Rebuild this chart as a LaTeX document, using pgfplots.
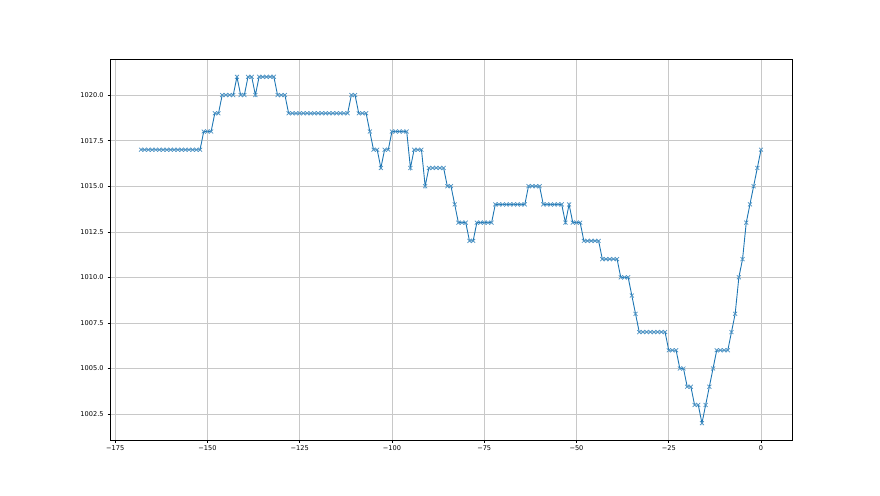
\documentclass[border=0pt]{standalone}
\usepackage{fontspec}
\setmainfont{DejaVu Sans}
\usepackage{pgfplots}
\pgfplotsset{compat=1.18}
\definecolor{mplblue}{RGB}{31,119,180}
\definecolor{gridgray}{RGB}{200,200,200}
\begin{document}
\begin{tikzpicture}[x=1pt,y=1pt]
\useasboundingbox (0,0) rectangle (880,495);
\begin{axis}[
  at={(110pt,54.5pt)}, anchor=south west,
  scale only axis, width=682pt, height=381pt,
  xmin=-176.4, xmax=8.4, ymin=1001.05, ymax=1021.95,
  xtick={-175,-150,-125,-100,-75,-50,-25,0},
  xticklabels={−175,−150,−125,−100,−75,−50,−25,0},
  ytick={1002.5,1005,1007.5,1010,1012.5,1015,1017.5,1020},
  yticklabels={1002.5,1005.0,1007.5,1010.0,1012.5,1015.0,1017.5,1020.0},
  xtick pos=bottom, ytick pos=left, tick align=outside,
  major tick length=2.4pt,
  tick style={black, line width=0.5pt},
  axis line style={line width=0.55pt},
  grid=major, major grid style={gridgray, line width=0.5pt},
  ticklabel style={font=\fontsize{6.6}{8}\selectfont},
  xticklabel style={yshift=0.5pt},
  yticklabel style={xshift=-0.5pt},
]
\addplot[color=mplblue, line width=0.9pt, mark=x, mark size=2.8pt, mark options={mplblue!80, line width=0.7pt}] coordinates {
(-168,1017)(-167,1017)(-166,1017)(-165,1017)(-164,1017)(-163,1017)(-162,1017)(-161,1017)(-160,1017)(-159,1017)(-158,1017)(-157,1017)(-156,1017)(-155,1017)(-154,1017)(-153,1017)(-152,1017)
(-151,1018)(-150,1018)(-149,1018)
(-148,1019)(-147,1019)
(-146,1020)(-145,1020)(-144,1020)(-143,1020)
(-142,1021)
(-141,1020)(-140,1020)
(-139,1021)(-138,1021)
(-137,1020)
(-136,1021)(-135,1021)(-134,1021)(-133,1021)(-132,1021)
(-131,1020)(-130,1020)(-129,1020)
(-128,1019)(-127,1019)(-126,1019)(-125,1019)(-124,1019)(-123,1019)(-122,1019)(-121,1019)(-120,1019)(-119,1019)(-118,1019)(-117,1019)(-116,1019)(-115,1019)(-114,1019)(-113,1019)(-112,1019)
(-111,1020)(-110,1020)
(-109,1019)(-108,1019)(-107,1019)
(-106,1018)
(-105,1017)(-104,1017)
(-103,1016)
(-102,1017)(-101,1017)
(-100,1018)(-99,1018)(-98,1018)(-97,1018)(-96,1018)
(-95,1016)
(-94,1017)(-93,1017)(-92,1017)
(-91,1015)
(-90,1016)(-89,1016)(-88,1016)(-87,1016)(-86,1016)
(-85,1015)(-84,1015)
(-83,1014)
(-82,1013)(-81,1013)(-80,1013)
(-79,1012)(-78,1012)
(-77,1013)(-76,1013)(-75,1013)(-74,1013)(-73,1013)
(-72,1014)(-71,1014)(-70,1014)(-69,1014)(-68,1014)(-67,1014)(-66,1014)(-65,1014)(-64,1014)
(-63,1015)(-62,1015)(-61,1015)(-60,1015)
(-59,1014)(-58,1014)(-57,1014)(-56,1014)(-55,1014)(-54,1014)
(-53,1013)
(-52,1014)
(-51,1013)(-50,1013)(-49,1013)
(-48,1012)(-47,1012)(-46,1012)(-45,1012)(-44,1012)
(-43,1011)(-42,1011)(-41,1011)(-40,1011)(-39,1011)
(-38,1010)(-37,1010)(-36,1010)
(-35,1009)
(-34,1008)
(-33,1007)(-32,1007)(-31,1007)(-30,1007)(-29,1007)(-28,1007)(-27,1007)(-26,1007)
(-25,1006)(-24,1006)(-23,1006)
(-22,1005)(-21,1005)
(-20,1004)(-19,1004)
(-18,1003)(-17,1003)
(-16,1002)
(-15,1003)
(-14,1004)
(-13,1005)
(-12,1006)(-11,1006)(-10,1006)(-9,1006)
(-8,1007)
(-7,1008)
(-6,1010)
(-5,1011)
(-4,1013)
(-3,1014)
(-2,1015)
(-1,1016)
(0,1017)
};
\end{axis}
\end{tikzpicture}
\end{document}
